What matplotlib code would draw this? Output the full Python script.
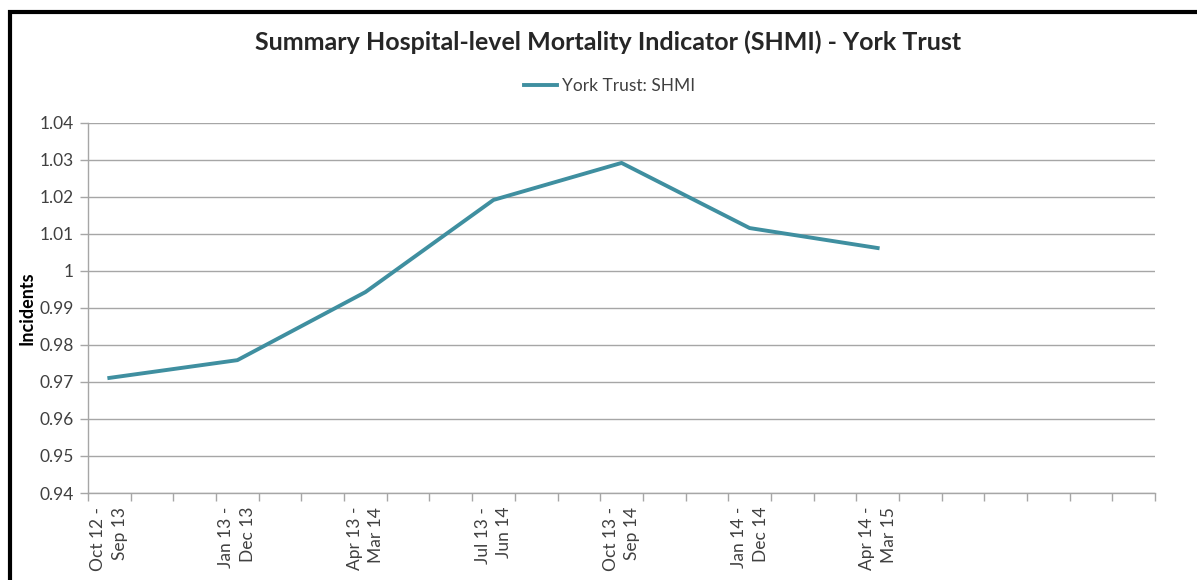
import numpy as np
import matplotlib.pyplot as plt
from matplotlib.patches import Rectangle

plt.rcParams['font.family'] = ['Lato', 'DejaVu Sans']

# 25 category slots on the axis, one label every third slot
n_slots = 25
period_labels = ["Oct 12 -\nSep 13", "Jan 13 -\nDec 13", "Apr 13 -\nMar 14",
                 "Jul 13 -\nJun 14", "Oct 13 -\nSep 14", "Jan 14 -\nDec 14",
                 "Apr 14 -\nMar 15"]
period_slots = [0, 3, 6, 9, 12, 15, 18]
shmi = [0.9711, 0.9759, 0.9943, 1.0192, 1.0292, 1.0116, 1.0062]

line_color = "#3F8FA0"
text_color = "#404040"
grid_color = "#A6A6A6"

fig = plt.figure(figsize=(11.97, 5.8), dpi=100)
ax = fig.add_axes([0.0735, 0.150, 0.8915, 0.638])

ax.plot(period_slots, shmi, color=line_color, lw=2.8, label="York Trust: SHMI",
        solid_joinstyle="round")

ax.set_xlim(-0.5, n_slots - 0.5)
ax.set_ylim(0.94, 1.04)
yticks = np.round(np.arange(0.94, 1.0401, 0.01), 2)
ax.set_yticks(yticks)
ax.set_yticklabels([f"{v:g}" for v in yticks])
ax.yaxis.grid(True, color=grid_color, lw=1.0)
ax.set_axisbelow(True)

ax.set_xticks(np.arange(-0.5, n_slots, 1.0))
ax.set_xticklabels([])
ax.set_xticks(period_slots, minor=True)
ax.set_xticklabels(period_labels, minor=True, rotation=90, ha="center", va="top",
                   multialignment="right", fontsize=12.5, color=text_color,
                   linespacing=1.45)
ax.tick_params(axis="x", which="major", length=6, color=grid_color, width=1.0)
ax.tick_params(axis="x", which="minor", length=0, pad=10)
ax.tick_params(axis="y", length=6, color=grid_color, width=1.0, labelsize=12.5,
               labelcolor=text_color, pad=4)

for side in ["top", "right"]:
    ax.spines[side].set_visible(False)
for side in ["left", "bottom"]:
    ax.spines[side].set_color(grid_color)
    ax.spines[side].set_linewidth(1.0)

ax.set_ylabel("Incidents", fontsize=13, fontweight="bold", color="black")
ax.yaxis.set_label_coords(-0.049, 0.5)

fig.text(0.508, 0.928, "Summary Hospital-level Mortality Indicator (SHMI) - York Trust",
         ha="center", va="center", fontsize=18, fontweight="bold", color="#262626")
fig.legend(loc="center", bbox_to_anchor=(0.509, 0.852), frameon=False, fontsize=12.5,
           handlelength=1.9, handletextpad=0.3, labelcolor=text_color)

fig.patches.append(Rectangle((0.0083, -0.1), 1.2, 1.08, transform=fig.transFigure,
                             fill=False, edgecolor="black", lw=3.0))

fig.savefig("out.png", dpi=100)
